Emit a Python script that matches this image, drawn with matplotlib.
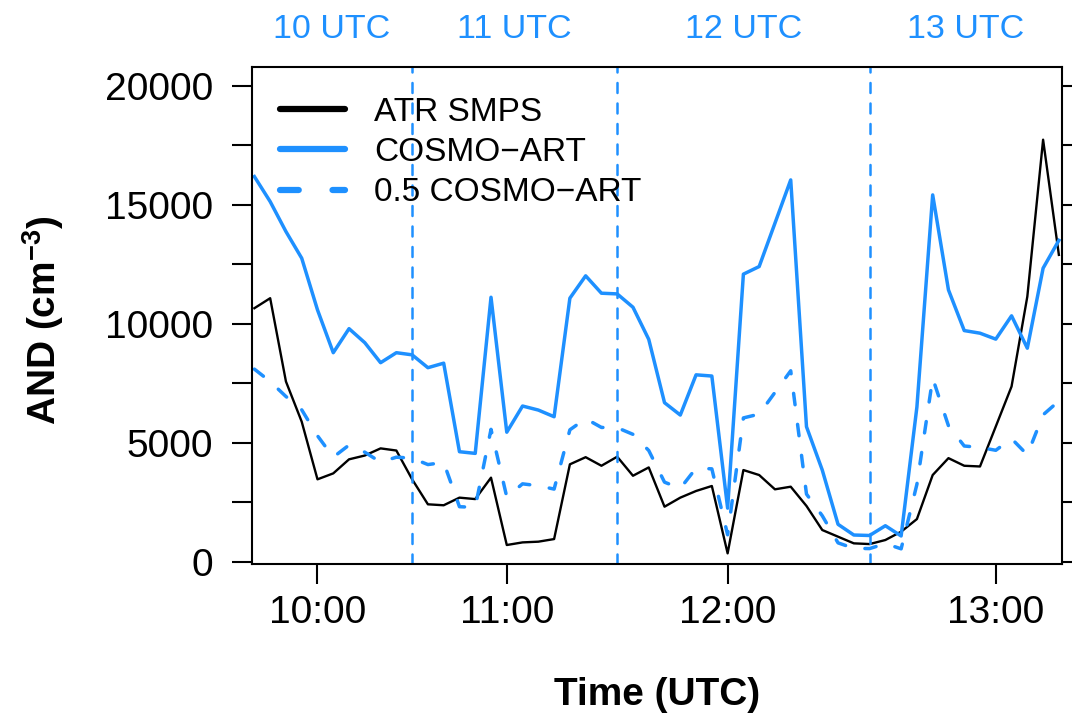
import matplotlib
matplotlib.use('Agg')
import matplotlib.pyplot as plt
from matplotlib.lines import Line2D
from matplotlib.ticker import MultipleLocator

plt.rcParams['font.family'] = ['Liberation Sans', 'DejaVu Sans']
plt.rcParams['mathtext.fontset'] = 'custom'
plt.rcParams['mathtext.rm'] = 'Liberation Sans'
plt.rcParams['mathtext.bf'] = 'Liberation Sans:bold'
plt.rcParams['mathtext.it'] = 'Liberation Sans:italic'

# values, one per sample
atr_smps = [10650, 11070, 7570, 5880, 3460, 3710, 4300, 4460, 4760, 4670,
            3460, 2410, 2370, 2690, 2630, 3530, 700, 810, 840, 950,
            4090, 4390, 4030, 4410, 3610, 3960, 2310, 2690, 2970, 3180,
            350, 3850, 3640, 3040, 3150, 2340, 1330, 1050, 770, 740,
            910, 1260, 1790, 3640, 4350, 4030, 4000, 5680, 7360, 11140,
            17730, 12890]
cosmo_art = [16180, 15130, 13870, 12750, 10580, 8780, 9790, 9200, 8360, 8780,
             8690, 8150, 8340, 4620, 4550, 11110, 5440, 6540, 6370, 6090,
             11070, 12010, 11280, 11250, 10690, 9340, 6680, 6160, 7850, 7800,
             2250, 12080, 12400, 14220, 16040, 5670, 3850, 1570, 1120, 1100,
             1510, 1080, 6500, 15410, 11420, 9710, 9600, 9350, 10330, 8970,
             12330, 13500]
half_cosmo = [8090, 7570, 6940, 6380, 5290, 4390, 4900, 4600, 4180, 4390,
              4350, 4080, 4170, 2310, 2280, 5560, 2720, 3270, 3190, 3050,
              5540, 6010, 5640, 5630, 5350, 4670, 3340, 3080, 3930, 3900,
              1130, 6040, 6200, 7110, 8020, 2840, 1930, 790, 560, 550,
              760, 540, 3250, 7710, 5710, 4860, 4800, 4680, 5170, 4490,
              6170, 6750]

time_tick_idx = [4, 16, 30, 47]
time_tick_labels = ['10:00', '11:00', '12:00', '13:00']
hour_bounds = [10, 23, 39]
hour_labels = ['10 UTC', '11 UTC', '12 UTC', '13 UTC']

blue = '#1E90FF'
x = list(range(len(atr_smps)))

fig = plt.figure(figsize=(10.72, 7.13), dpi=100)
ax = fig.add_axes([0.2351, 0.2090, 0.7556, 0.6971])

ax.plot(x, atr_smps, color='black', lw=1.7, solid_joinstyle='round')
ax.plot(x, cosmo_art, color=blue, lw=2.5, solid_joinstyle='round')
ax.plot(x, half_cosmo, color=blue, lw=2.5, dashes=(3.3, 5.7),
        dash_capstyle='round', dash_joinstyle='round')

for b in hour_bounds:
    ax.axvline(b, color=blue, lw=1.8, dashes=(4, 4.2), dash_capstyle='round')

ax.set_xlim(-0.15, 51.2)
ax.set_ylim(-97, 20786)

ax.set_xticks(time_tick_idx)
ax.set_xticklabels(time_tick_labels)
ax.yaxis.set_major_locator(MultipleLocator(5000))
ax.yaxis.set_minor_locator(MultipleLocator(2500))
ax.tick_params(axis='both', which='both', direction='out', length=14.4,
               width=1.5, labelsize=28)
ax.tick_params(axis='y', which='both', right=True, pad=13.7)
ax.tick_params(axis='x', pad=8)
for sp in ax.spines.values():
    sp.set_linewidth(1.5)

# hour labels centred over each segment
edges = [ax.get_xlim()[0]] + hour_bounds + [ax.get_xlim()[1]]
for i, lab in enumerate(hour_labels):
    xm = (edges[i] + edges[i + 1]) / 2
    ax.text(xm, 1.0577, lab, transform=ax.get_xaxis_transform(),
            ha='center', va='baseline', color=blue, fontsize=24.5)

fig.text(0.6129, 1 - 705 / 713, 'Time (UTC)', ha='center', va='baseline',
         fontsize=28, fontweight='bold')
fig.text(43 / 1072, 1 - 320 / 713, r'AND (cm$^{\mathbf{-3}}$)', rotation=90,
         ha='center', va='center', fontsize=28, fontweight='bold')

handles = [
    Line2D([], [], color='black', lw=4.5, solid_capstyle='round'),
    Line2D([], [], color=blue, lw=4.5, solid_capstyle='round'),
    Line2D([], [], color=blue, lw=4.5, dashes=(3.0, 5.4), dash_capstyle='round'),
]
ax.legend(handles, ['ATR SMPS', 'COSMO\u2212ART', '0.5 COSMO\u2212ART'],
          loc='upper left', bbox_to_anchor=(0.0346, 0.940), frameon=False,
          fontsize=24, handlelength=1.95, handletextpad=0.87,
          labelspacing=0.28, borderpad=0, borderaxespad=0)

fig.savefig('out.png', dpi=100)
